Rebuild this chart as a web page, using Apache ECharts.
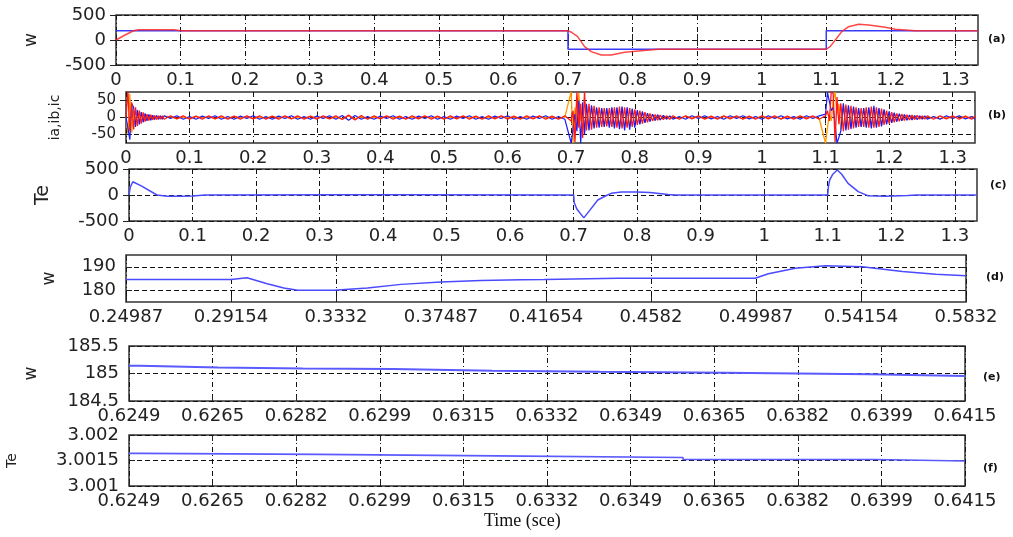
<!DOCTYPE html>
<html><head><meta charset="utf-8">
<script src="https://cdn.jsdelivr.net/npm/echarts@6/dist/echarts.min.js"></script>
<style>html,body{margin:0;padding:0;background:#fff}#c{width:1013px;height:537px}</style>
</head><body><div id="c"></div>
<script>
// ---------- data ----------
const tMax = 1.335;
const xTicksMain = [0,0.1,0.2,0.3,0.4,0.5,0.6,0.7,0.8,0.9,1,1.1,1.2,1.3];
const xLabelsD = ['0.24987','0.29154','0.3332','0.37487','0.41654','0.4582','0.49987','0.54154','0.5832'];
const xLabelsEF = ['0.6249','0.6265','0.6282','0.6299','0.6315','0.6332','0.6349','0.6365','0.6382','0.6399','0.6415'];
const rangeD = [0.24987, 0.5832];
const rangeEF = [0.6249, 0.6415];
const yTicksA = [-500,0,500];
const yTicksB = [-50,0,50];
const yTicksC = [-500,0,500];
const yTicksD = [180,190];
const yTicksE = [184.5,185,185.5];
const yTicksF = [3.001,3.0015,3.002];

// (a) speed: reference (blue) and actual (red)
const tRef = [0, 0.7, 0.7, 1.1, 1.1, 1.335];
const wRef = [185, 185, -185, -185, 185, 185];
const tAct = [0, 0.014, 0.027, 0.035, 0.09, 0.1, 0.7, 0.706, 0.715, 0.7257, 0.736, 0.7516, 0.767, 0.7878, 0.8137, 0.84, 1.1, 1.106, 1.114, 1.124, 1.1346, 1.15, 1.1657, 1.1915, 1.207, 1.238, 1.335];
const wAct = [0, 100, 185, 205, 205, 185, 185, 150, 67, -133, -233, -300, -300, -247, -213, -185, -185, -133, 0, 167, 267, 313, 300, 253, 213, 187, 185];

// (b) phase currents
const tI = [0,0.003,0.006,0.009,0.012,0.015,0.018,0.021,0.024,0.027,0.03,0.033,0.036,0.039,0.042,0.045,0.048,0.051,0.054,0.057,0.06,
0.07,0.08,0.09,0.1,0.11,0.12,0.13,0.14,0.15,0.16,0.17,0.18,0.19,0.2,0.21,0.22,0.23,0.24,0.25,0.26,0.27,0.28,0.29,0.3,0.31,0.32,0.33,0.34,0.35,0.36,0.37,0.38,0.39,0.4,0.41,0.42,0.43,0.44,0.45,0.46,0.47,0.48,0.49,0.5,0.51,0.52,0.53,0.54,0.55,0.56,0.57,0.58,0.59,0.6,0.61,0.62,0.63,0.64,0.65,0.66,0.67,0.68,0.69,
0.7,0.703,0.706,0.709,0.712,0.715,0.718,0.721,0.724,0.728,0.732,0.736,0.74,0.744,0.748,0.752,0.756,0.76,0.764,0.768,0.772,0.776,0.78,0.784,0.788,0.792,0.796,0.8,0.804,0.808,0.812,0.816,0.82,0.824,0.828,0.832,0.836,0.84,0.845,0.85,0.855,0.86,
0.87,0.88,0.89,0.9,0.91,0.92,0.93,0.94,0.95,0.96,0.97,0.98,0.99,1,1.01,1.02,1.03,1.04,1.05,1.06,1.07,1.08,1.09,
1.1,1.103,1.106,1.109,1.112,1.115,1.118,1.121,1.124,1.128,1.132,1.136,1.14,1.144,1.148,1.152,1.156,1.16,1.164,1.168,1.172,1.176,1.18,1.184,1.188,1.192,1.196,1.2,1.204,1.208,1.212,1.216,1.22,1.224,1.228,1.232,1.236,1.24,1.244,1.248,1.252,1.256,1.26,
1.27,1.28,1.29,1.3,1.31,1.32,1.33,1.335];
const ia = [0,78,-40,45,-35,30,-25,20,-18,15,-12,10,-9,8,-7,6,-6,5,-5,5,-5,
5,-4,5,-5,4,-5,5,-4,5,-5, 4,-5,5,-4,5,-5,4,-5,5,-4, 5,-5,4,-5,5,-4,5,-6,7,-7, 6,-5,5,-4,5,-5,4,-5,5,-4, 5,-5,4,-5,5,-4,5,-5,4,-5, 5,-4,5,-5,4,-5,5,-4,5,-5, 4,-5,5,
-10,20,-72,76,-30,40,-60,76,-38, 40,-36,34,-30,30,-28,28,-26,28,-28, 30,-30,32,-32,30,-30,28,-28,24,-22, 20,-18,16,-14,12,-10,9,-8,7,-6, 5,-5,5,
-5,5,-4,5,-5,4,-5,5,-4,5,-5,4,-5,5,-4,5,-5,4,-5,5,-4,5,-5,
5,20,-10,76,70,-72,60,-20,42, -40,38,-36,34,-32,30,-28,28,-28,30, -30,32,-30,30,-28,26,-22,20,-18,16, -14,12,-11,10,-9,8,-7,7,-6,6, -5,5,-5,5,
-5,5,-4,5,-5,4,-5,5];
const ib = [0,-30,-65,40,30,-28,22,-20,16,-14,12,-10,9,-8,7,-6,6,-5,5,-5,5,
-3,5,-5,3,-5,4,-3,5,-5,3, -5,4,-3,5,-5,3,-5,4,-3,5, -5,3,-5,4,-3,5,-5,6,-8,6, -5,3,-5,4,-3,5,-5,3,-5,4, -3,5,-5,3,-5,4,-3,5,-5,3, -5,4,-3,5,-5,3,-5,4,-3,5, -5,3,-5,
-75,-76,10,-40,50,-76,45,-50,40, -38,36,-32,30,-30,28,-28,28,-30,30, -32,30,-34,32,-38,30,-36,26,-30,22, -20,18,-16,13,-12,10,-9,8,-7,6, -5,5,-5,
3,-5,5,-3,5,-4,3,-5,5,-3,5,-4,3,-5,5,-3,5,-4,3,-5,5,-3,5,
10,74,76,20,30,-20,-76,-74,-40, 42,-38,36,-34,32,-30,28,-28,28,-30, 30,-32,34,-30,28,-26,24,-20,18,-16, 14,-12,11,-10,9,-8,7,-7,6,-6, 5,-5,5,-5,
3,-5,5,-3,5,-4,3,-5];
const ic = [0,-48,70,-45,20,-15,18,-14,12,-10,9,-8,7,-6,6,-5,5,-5,4,-4,4,
2,-3,1,-2,3,-1,2,-3,1,-2, 3,-1,2,-3,1,-2,3,-1,2,-3, 1,-2,3,-1,2,-3,1,-4,5,-4, 2,-3,1,-2,3,-1,2,-3,1,-2, 3,-1,2,-3,1,-2,3,-1,2,-3, 1,-2,3,-1,2,-3,1,-2,3,-1, 2,-3,1,
76,-76,30,-20,72,-10,20,-40,36, -34,32,-30,28,-28,26,-26,24,-26,28, -28,28,-28,30,-28,28,-26,24,-22,20, -18,16,-14,12,-11,10,-9,8,-7,6, -5,4,-3,
-2,3,-1,2,-3,1,-2,3,-1,2,-3,1,-2,3,-1,2,-3,1,-2,3,-1,2,-3,
-76,-30,10,-10,50,74,10,40,-36, 38,-34,32,-30,30,-28,26,-26,26,-28, 28,-28,28,-26,26,-24,22,-18,16,-15, 13,-12,10,-9,8,-7,6,-6,5,-5, 4,-4,3,-3,
2,-3,1,-2,3,-1,2,-3];

// (c) electromagnetic torque
const tTe = [0, 0.002, 0.006, 0.02, 0.044, 0.06, 0.08, 0.1, 0.12, 0.33, 0.44, 0.7, 0.701, 0.705, 0.716, 0.725, 0.738, 0.75, 0.759, 0.775, 0.8, 0.82, 0.849, 0.86, 1.1, 1.101, 1.103, 1.108, 1.115, 1.122, 1.132, 1.148, 1.163, 1.19, 1.226, 1.24, 1.335];
const vTe = [0, 150, 255, 170, 0, -25, -25, -20, 0, 5, 5, 0, -150, -270, -440, -300, -96, -20, 32, 58, 60, 50, 10, 0, 0, 150, 288, 400, 480, 400, 224, 64, -13, -25, -10, 0, 0];

// (d) speed zoom
const tD = [0.24987, 0.29154, 0.2979, 0.3059, 0.3125, 0.318, 0.3324, 0.3457, 0.359, 0.3748, 0.3908, 0.4066, 0.4159, 0.4451, 0.4995, 0.5048, 0.5155, 0.5274, 0.542, 0.558, 0.5712, 0.5832];
const wD = [184.6, 184.6, 185.3, 182.8, 181, 180, 180, 181, 182.5, 183.5, 184.2, 184.5, 184.6, 185.1, 185.1, 187, 189.4, 190.4, 190, 188, 186.8, 186.2];

// (e) speed steady state
const tE = [0.6249, 0.62512, 0.62667, 0.62835, 0.63014, 0.63211, 0.63425, 0.63673, 0.63961, 0.6415];
const wE = [185.14, 185.11, 185.09, 185.08, 185.05, 185.03, 185.015, 184.985, 184.955, 184.955];

// (f) torque steady state
const tF = [0.6249, 0.62515, 0.62863, 0.6322, 0.6359, 0.63971, 0.6415];
const vF = [3.00164, 3.00162, 3.00159, 3.00156, 3.00152, 3.00149, 3.00149];

// ---------- chart ----------
const F = 'DejaVu Sans';
const INK = '#222';
const FS = 18;
const tick = (vals) => Object.assign({show:true, inside:true, length:6, lineStyle:{color:INK, width:1}}, vals ? {customValues: vals} : {});
const grids = [
  {left:116, top:15, width:862, height:50},
  {left:126, top:92, width:849, height:51},
  {left:129, top:169, width:848, height:52},
  {left:126, top:255, width:840, height:47},
  {left:129, top:346, width:836, height:55},
  {left:129, top:435, width:836, height:51}
].map(g => Object.assign(g, {show:true, borderColor:'#333', borderWidth:1.5, backgroundColor:'transparent', containLabel:false, outerBoundsMode:'none'}));

const xAxes = [], yAxes = [], series = [];
const addX = o => (xAxes.push(o), xAxes.length - 1);
const addY = o => (yAxes.push(o), yAxes.length - 1);
const vLine = {type:[5,3,1,3], color:'#111', width:1};
const hLine = {type:[5,3], color:'#111', width:1};
const lbl = {hideOverlap:false, showMinLabel:true, showMaxLabel:true, fontFamily:F, fontSize:FS, color:INK};

function xMain(gi) {
  const b = addX({type:'value', gridIndex:gi, min:0, max:tMax, position:'bottom',
    axisLine:{show:false}, axisTick:tick(xTicksMain),
    axisLabel:Object.assign({}, lbl, {customValues:xTicksMain, margin:6}),
    splitLine:{show:true, lineStyle:vLine}});
  addX({type:'value', gridIndex:gi, min:0, max:tMax, position:'top', axisLine:{show:false},
    axisTick:tick(xTicksMain), axisLabel:{show:false}, splitLine:{show:false}});
  return b;
}
function xCat(gi, range, labels) {
  const v = addX({type:'value', gridIndex:gi, min:range[0], max:range[1], show:false});
  addX({type:'category', gridIndex:gi, data:labels, boundaryGap:false, position:'bottom',
    axisLine:{show:false}, axisTick:Object.assign(tick(), {interval:0}),
    axisLabel:Object.assign({}, lbl, {interval:0, margin:6}),
    splitLine:{show:true, interval:0, lineStyle:vLine}});
  addX({type:'category', gridIndex:gi, data:labels, boundaryGap:false, position:'top',
    axisLine:{show:false}, axisTick:Object.assign(tick(), {interval:0}), axisLabel:{show:false}, splitLine:{show:false}});
  return v;
}
function yPair(gi, min, max, ticks, name, gap, nsize, fs) {
  const l = addY({type:'value', gridIndex:gi, min, max, position:'left',
    axisLine:{show:false}, axisTick:tick(ticks),
    axisLabel:Object.assign({}, lbl, {customValues:ticks, margin:10, fontSize:fs || FS, lineHeight:fs || FS}),
    splitLine:{show:true, lineStyle:hLine},
    name, nameLocation:'middle', nameRotate:90, nameGap:gap,
    nameTextStyle:{fontFamily:F, fontSize:nsize, color:INK}});
  addY({type:'value', gridIndex:gi, min, max, position:'right', axisLine:{show:false},
    axisTick:tick(ticks), axisLabel:{show:false}, splitLine:{show:false}});
  return l;
}
function line(xi, yi, t, v, color, width, step) {
  return {type:'line', xAxisIndex:xi, yAxisIndex:yi, data:t.map((x, i) => [x, v[i]]),
    symbol:'none', showSymbol:false, step:step || false, silent:true, clip:true,
    lineStyle:{color, width}, itemStyle:{color}};
}

// panel a
let xi = xMain(0), yi = yPair(0, -500, 500, yTicksA, 'w', 76, 17);
series.push(line(xi, yi, tRef, wRef, '#3a3aff', 1.5));
series.push(line(xi, yi, tAct, wAct, 'rgba(255,40,40,0.85)', 1.5));
// panel b
xi = xMain(1); yi = yPair(1, -75, 75, yTicksB, 'ia,ib,ic', 64, 14, 15);
series.push(line(xi, yi, tI, ic, '#ff9900', 1.3));
series.push(line(xi, yi, tI, ib, '#1a1aff', 1.2));
series.push(line(xi, yi, tI, ia, '#ff1a1a', 1.3));
// panel c
xi = xMain(2); yi = yPair(2, -500, 500, yTicksC, 'Te', 76, 19);
series.push(line(xi, yi, tTe, vTe, '#4a4aff', 1.5));
// panel d
xi = xCat(3, rangeD, xLabelsD); yi = yPair(3, 175, 195, yTicksD, 'w', 68, 17);
series.push(line(xi, yi, tD, wD, '#4a4aff', 1.5));
// panel e
xi = xCat(4, rangeEF, xLabelsEF); yi = yPair(4, 184.5, 185.5, yTicksE, 'w', 89, 17);
series.push(line(xi, yi, tE, wE, '#5a5aff', 2, 'end'));
// panel f
xi = xCat(5, rangeEF, xLabelsEF); yi = yPair(5, 3.001, 3.002, yTicksF, 'Te', 110, 14);
series.push(line(xi, yi, tF, vF, '#5a5aff', 1.6, 'end'));

const panelTags = [['(a)', 988, 34], ['(b)', 988, 110], ['(c)', 990, 180], ['(d)', 986, 272], ['(e)', 983, 372], ['(f)', 983, 463]];
const graphic = panelTags.map(p => ({type:'text', left:p[1], top:p[2],
  style:{text:p[0], font:'bold 11px "DejaVu Sans"', fill:'#111'}}));
graphic.push({type:'text', left:484, top:512, style:{text:'Time (sce)', font:'18px "Liberation Serif"', fill:'#111'}});

const chart = echarts.init(document.getElementById('c'), null, {renderer:'canvas'});
chart.setOption({animation:false, backgroundColor:'#fff', grid:grids, xAxis:xAxes, yAxis:yAxes, series, graphic});
</script></body></html>
